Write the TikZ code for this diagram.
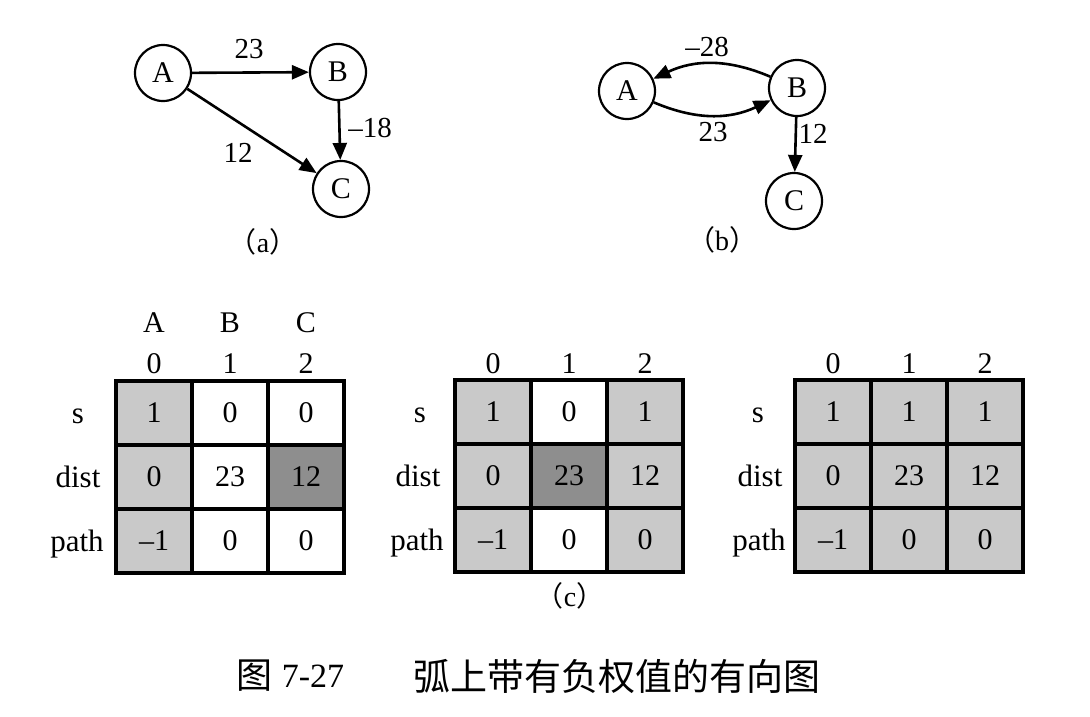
\documentclass[tikz,border=0pt]{standalone}
\usepackage{fontspec}
\setmainfont{Liberation Serif}
\newfontfamily\cjk{Noto Sans CJK SC}
\usetikzlibrary{arrows.meta}
\definecolor{lightg}{HTML}{C9C9C9}
\definecolor{darkg}{HTML}{8E8E8E}
\begin{document}
\begin{tikzpicture}[x=1pt,y=-1pt,
 vertex/.style={circle,draw,line width=2.2pt,minimum size=56pt,inner sep=0pt,font=\fontsize{30}{30}\selectfont},
 edge/.style={line width=2.6pt,-{Triangle[length=17pt,width=14pt]}},
 lbl/.style={font=\fontsize{29}{29}\selectfont,inner sep=0pt},
 hdr/.style={font=\fontsize{30}{30}\selectfont,inner sep=0pt},
 rowl/.style={font=\fontsize{31}{31}\selectfont,inner sep=0pt,anchor=base},
 cell/.style={draw,line width=3.2pt,minimum width=76pt,minimum height=64pt,inner sep=0pt,font=\fontsize{30}{30}\selectfont},
 lg/.style={fill=lightg}, dg/.style={fill=darkg}, wh/.style={fill=white},
 sub/.style={font=\fontsize{28}{28}\selectfont,inner sep=0pt}
]
\path[use as bounding box,fill=white] (0,0) rectangle (1090,716);

% ---------- graph (a)
\node[vertex] (a1) at (163,73) {A};
\node[vertex] (b1) at (338,72) {B};
\node[vertex] (c1) at (341,189) {C};
\draw[edge] (a1) -- (b1);
\draw[edge] (b1) -- (c1);
\draw[edge] (a1) -- (c1);
\node[lbl] (la1) at (249,49) {23};
\node[lbl] (lb1) at (370,128) {\textendash18};
\node[lbl] (lc1) at (238,153) {12};
\node[sub] (capa) at (263,242) {{\cjk （}a{\cjk ）}};

% ---------- graph (b)
\node[vertex] (a2) at (627,91) {A};
\node[vertex] (b2) at (797,88) {B};
\node[vertex] (c2) at (794,201) {C};
\draw[edge] (b2) to[bend right=24] (a2);
\draw[edge] (a2) to[bend right=24] (b2);
\draw[edge] (b2) -- (c2);
\node[lbl] (la2) at (707,47) {\textendash28};
\node[lbl] (lb2) at (713,132) {23};
\node[lbl] (lc2) at (813,134) {12};
\node[sub] (capb) at (722,240) {{\cjk （}b{\cjk ）}};

% ---------- table 1
\node[hdr] (h1A) at (154,323) {A};
\node[hdr] (h1B) at (230,323) {B};
\node[hdr] (h1C) at (306,323) {C};
\foreach \n [count=\c from 0] in {0,1,2}
  \node[hdr] (h1n\c) at ({154+76*\c},364) {\n};
\foreach \v/\f [count=\c from 0] in {1/lg,0/wh,0/wh}
  \node[cell,\f] (t1s\c) at ({154+76*\c},413) {\v};
\foreach \v/\f [count=\c from 0] in {0/lg,23/wh,12/dg}
  \node[cell,\f] (t1d\c) at ({154+76*\c},477) {\v};
\foreach \v/\f [count=\c from 0] in {\textendash1/lg,0/wh,0/wh}
  \node[cell,\f] (t1p\c) at ({154+76*\c},541) {\v};
\node[rowl] (r1s) at (78,423) {s};
\node[rowl] (r1d) at (78,487) {dist};
\node[rowl] (r1p) at (77,551) {path};

% ---------- table 2
\foreach \n [count=\c from 0] in {0,1,2}
  \node[hdr] (h2n\c) at ({493+76*\c},364) {\n};
\foreach \v/\f [count=\c from 0] in {1/lg,0/wh,1/lg}
  \node[cell,\f] (t2s\c) at ({493+76*\c},412) {\v};
\foreach \v/\f [count=\c from 0] in {0/lg,23/dg,12/lg}
  \node[cell,\f] (t2d\c) at ({493+76*\c},476) {\v};
\foreach \v/\f [count=\c from 0] in {\textendash1/lg,0/wh,0/lg}
  \node[cell,\f] (t2p\c) at ({493+76*\c},540) {\v};
\node[rowl] (r2s) at (420,422) {s};
\node[rowl] (r2d) at (418,486) {dist};
\node[rowl] (r2p) at (417,550) {path};
\node[sub] (capc) at (570,596) {{\cjk （}c{\cjk ）}};

% ---------- table 3
\foreach \n [count=\c from 0] in {0,1,2}
  \node[hdr] (h3n\c) at ({833+76*\c},364) {\n};
\foreach \v/\f [count=\c from 0] in {1/lg,1/lg,1/lg}
  \node[cell,\f] (t3s\c) at ({833+76*\c},412) {\v};
\foreach \v/\f [count=\c from 0] in {0/lg,23/lg,12/lg}
  \node[cell,\f] (t3d\c) at ({833+76*\c},476) {\v};
\foreach \v/\f [count=\c from 0] in {\textendash1/lg,0/lg,0/lg}
  \node[cell,\f] (t3p\c) at ({833+76*\c},540) {\v};
\node[rowl] (r3s) at (758,422) {s};
\node[rowl] (r3d) at (760,486) {dist};
\node[rowl] (r3p) at (759,550) {path};

% ---------- caption
\node[inner sep=0pt,font=\fontsize{36}{36}\selectfont] (fig) at (254,676) {\cjk 图};
\node[inner sep=0pt,font=\fontsize{34}{34}\selectfont] (fignum) at (313,676) {7-27};
\node[inner sep=0pt,font=\fontsize{37}{37}\selectfont] (cap) at (617,676) {\cjk 弧上带有负权值的有向图};
\end{tikzpicture}
\end{document}
